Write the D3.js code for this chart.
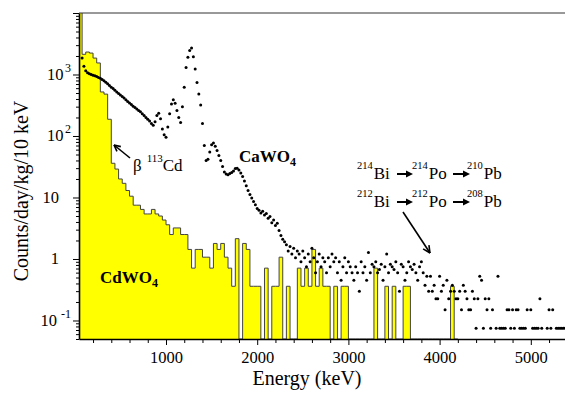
<!DOCTYPE html>
<html>
<head>
<meta charset="utf-8">
<script src="https://cdn.jsdelivr.net/npm/d3@7"></script>
<style>
  body { margin: 0; background: #fff; }
  svg { display: block; font-family: "Liberation Serif", "Times New Roman", serif; }
</style>
</head>
<body>
<div id="chart"></div>
<script>
// CdWO4 spectrum: 40 keV bins, first bin starts at 40 keV
const cdBinStart = 40;
const cdBinWidth = 40;
const cdValues = [
    12000, 2130, 2320, 2230, 1850, 1540, 520, 480, 187, 36,
    29, 20, 17, 13, 10.5, 7.5, 7.5, 6.4, 5.4, 5.4,
    6.4, 5.4, 5.0, 4.3, 3.6, 2.5, 3.2, 3.2, 2.5, 2.5,
    1.43, 0.71, 1.43, 1.43, 1.07, 1.07, 0.71, 1.79, 1.43, 1.79,
    1.07, 0.71, 0.36, 2.14, 0, 1.79, 1.43, 0.36, 0.36, 0.36,
    0, 0.71, 0, 0.36, 0.36, 1.07, 0, 0.36, 0, 0,
    0.71, 0.36, 0.71, 0.36, 1.43, 0.36, 0.71, 0.36, 0.36, 0,
    0.36, 0, 0.36, 0.36, 0, 0, 0, 0, 0, 0,
    0, 0.71, 0, 0, 0.36, 0, 0.36, 0, 0, 0.36,
    0.36, 0, 0, 0, 0, 0, 0, 0, 0, 0,
    0, 0, 0.36, 0
];

// CaWO4 spectrum: one point every 20 keV from 80 keV (null = empty bin)
const caStart = 80;
const caStep = 20;
const caValues = [
    1850, 1360, 1150, 1070, 1030, 1000, 975, 950, 925, 895,
    870, 830, 790, 750, 710, 660, 620, 590, 555, 520,
    490, 465, 440, 415, 390, 365, 345, 325, 305, 290,
    275, 260, 248, 230, 215, 200, 188, 176, 160, 150,
    170, 215, 235, 190, 130, 105, 95, 140, 230, 330,
    390, 340, 260, 200, 165, 300, 620, 1300, 1900, 2450,
    2700, 1950, 1230, 740, 480, 320, 160, 70, 40, 42,
    55, 72, 77, 68, 58, 48, 40, 32, 26, 24,
    23.5, 24.5, 25.5, 27, 29.5, 30, 28, 25, 22, 18.5,
    15.5, 13, 11.2, 9.8, 8.6, 7.6, 6.6, 6.2, 5.6, 6.0,
    5.2, 5.5, 4.6, 4.9, 3.9, 4.3, 3.5, 3.8, 2.9, 2.4,
    2.1, 1.9, 1.7, 1.35, 1.6, 1.2, 1.5, 1.05, 1.35, 1.2,
    0.9, 1.35, 1.05, 0.75, 1.2, 0.9, 1.5, 1.05, 0.6, 0.9,
    1.2, 0.75, 1.05, 0.9, 0.6, 1.05, 0.75, 1.2, 0.9, 1.05,
    0.6, 0.9, 0.45, 0.75, 1.05, 0.6, 0.9, 0.75, 0.6, 0.45,
    0.75, 0.6, 0.3, 0.9, 0.6, 0.75, 0.45, 1.28, 0.6, 0.825,
    0.75, 0.9, 0.6, 0.675, 0.825, 0.45, 0.75, 1.2, 0.6, 0.825,
    0.75, 0.675, 0.9, 0.6, 0.3, 0.825, 0.75, 0.45, 0.6, 0.9,
    0.75, 0.675, 0.825, 0.6, 0.45, 0.75, 0.9, 0.6, 0.375, 0.525,
    0.3, 0.525, 0.3, 0.375, 0.225, 0.225, 0.525, 0.3, 0.375, 0.15,
    0.45, 0.225, 0.3, 0.375, 0.3, 0.225, 0.225, 0.3, 0.15, 0.375,
    0.3, 0.225, 0.15, 0.15, 0.3, 0.225, 0.075, 0.225, 0.525, 0.45,
    0.075, 0.225, 0.15, 0.225, 0.075, 0.15, null, 0.075, 0.525, 0.075,
    0.075, 0.075, 0.075, 0.15, 0.15, 0.075, 0.15, 0.075, 0.15, 0.15,
    0.075, 0.075, 0.075, 0.075, 0.15, null, 0.15, 0.075, 0.075, 0.075,
    0.075, 0.225, 0.075, null, null, 0.075, 0.15, 0.075, 0.15, null,
    0.075, 0.075, 0.075, 0.075, 0.075, 0.075
];

const xTickLabels = [1000, 2000, 3000, 4000, 5000];
const yTickLabels = [
    {value: 0.1, base: '10', exp: '-1'},
    {value: 1, base: '1', exp: ''},
    {value: 10, base: '10', exp: ''},
    {value: 100, base: '10', exp: '2'},
    {value: 1000, base: '10', exp: '3'}
];

const width = 565;
const height = 395;
const margin = {top: 13, right: 0, bottom: 56, left: 79};
const plotBottom = height - margin.bottom;

const svg = d3.select('#chart')
    .append('svg')
    .attr('width', width)
    .attr('height', height);

const x = d3.scaleLinear()
    .domain([46, 5375])
    .range([margin.left, width - margin.right]);

const y = d3.scaleLog()
    .domain([0.05, 1e4])
    .range([plotBottom, margin.top]);

svg.append('clipPath')
    .attr('id', 'plot-clip')
    .append('rect')
    .attr('x', margin.left)
    .attr('y', margin.top)
    .attr('width', width - margin.left - margin.right)
    .attr('height', plotBottom - margin.top);

const plot = svg.append('g').attr('clip-path', 'url(#plot-clip)');

// histogram as one stepped outline, empty bins drop to the bottom
const cdPoints = cdValues.map((v, i) => ({e: cdBinStart + i * cdBinWidth, v}));
cdPoints.push({e: cdBinStart + cdValues.length * cdBinWidth, v: cdValues[cdValues.length - 1]});
const yTop = d => d.v > 0 ? y(d.v) : plotBottom;

plot.append('path')
    .datum(cdPoints)
    .attr('d', d3.area()
        .x(d => x(d.e))
        .y0(plotBottom)
        .y1(yTop)
        .curve(d3.curveStepAfter))
    .attr('fill', '#ffff00');

plot.append('path')
    .datum(cdPoints)
    .attr('d', d3.line()
        .x(d => x(d.e))
        .y(yTop)
        .curve(d3.curveStepAfter))
    .attr('fill', 'none')
    .attr('stroke', '#444')
    .attr('stroke-width', 1);

const caPoints = caValues
    .map((v, i) => ({e: caStart + i * caStep, v}))
    .filter(d => d.v !== null);

plot.selectAll('circle.ca')
    .data(caPoints)
    .join('circle')
    .attr('class', 'ca')
    .attr('cx', d => x(d.e))
    .attr('cy', d => y(d.v))
    .attr('r', 1.5)
    .attr('fill', '#000');

// frame top line
svg.append('line')
    .attr('x1', margin.left).attr('x2', width)
    .attr('y1', margin.top).attr('y2', margin.top)
    .attr('stroke', '#333').attr('stroke-width', 1);

// x axis: minor ticks every 200 keV, labels every 1000 keV
const xMinor = d3.range(200, 5400, 200).filter(v => v % 1000 !== 0);
svg.append('g')
    .attr('transform', `translate(0,${plotBottom})`)
    .call(d3.axisBottom(x).tickValues(xMinor).tickSize(4).tickSizeOuter(0).tickFormat(''))
    .call(g => g.select('.domain').remove());
svg.append('g')
    .attr('transform', `translate(0,${plotBottom})`)
    .call(d3.axisBottom(x).tickValues(xTickLabels).tickSize(6).tickSizeOuter(0)
        .tickPadding(6).tickFormat(d3.format('d')))
    .attr('font-family', null)
    .call(g => g.select('.domain').attr('stroke-width', 1.6))
    .call(g => g.selectAll('text').attr('font-size', '16.5px').attr('fill', '#000'));

// y axis: log minor ticks, custom power-of-ten labels
const yAll = y.ticks();
const yMajor = yAll.filter(v => Math.abs(Math.log10(v) - Math.round(Math.log10(v))) < 1e-6);
const yMinor = yAll.filter(v => !yMajor.includes(v));
svg.append('g')
    .attr('transform', `translate(${margin.left},0)`)
    .call(d3.axisLeft(y).tickValues(yMinor).tickSize(3).tickSizeOuter(0).tickFormat(''))
    .call(g => g.select('.domain').remove());
svg.append('g')
    .attr('transform', `translate(${margin.left},0)`)
    .call(d3.axisLeft(y).tickValues(yMajor).tickSize(6).tickSizeOuter(0).tickFormat(''))
    .call(g => g.select('.domain').attr('stroke-width', 1.6));

const yLabels = svg.append('g').attr('font-size', '16.5px');
yTickLabels.forEach(t => {
    const txt = yLabels.append('text')
        .attr('x', t.exp ? 71 : 59)
        .attr('y', y(t.value) + 5.5)
        .attr('text-anchor', 'end');
    txt.append('tspan').text(t.base);
    if (t.exp) {
        txt.append('tspan')
            .attr('dx', t.exp === '-1' ? 4 : 1.5)
            .attr('dy', -8)
            .attr('font-size', '12px')
            .text(t.exp);
    }
});

// axis titles
svg.append('text')
    .attr('x', 307)
    .attr('y', 385)
    .attr('text-anchor', 'middle')
    .attr('font-size', '20px')
    .text('Energy (keV)');

svg.append('text')
    .attr('transform', 'rotate(-90)')
    .attr('x', -191)
    .attr('y', 28)
    .attr('text-anchor', 'middle')
    .attr('font-size', '20px')
    .text('Counts/day/kg/10 keV');

// annotations
function openArrow(x1, y1, x2, y2, size) {
    const a = Math.atan2(y2 - y1, x2 - x1);
    const g = svg.append('g').attr('stroke', '#000').attr('stroke-width', 1.6).attr('fill', 'none');
    g.append('line').attr('x1', x1).attr('y1', y1).attr('x2', x2).attr('y2', y2);
    [-0.45, 0.45].forEach(d => {
        g.append('line')
            .attr('x1', x2).attr('y1', y2)
            .attr('x2', x2 - size * Math.cos(a + d))
            .attr('y2', y2 - size * Math.sin(a + d));
    });
}

function solidArrow(x1, x2, yy) {
    svg.append('line')
        .attr('x1', x1).attr('x2', x2 - 5)
        .attr('y1', yy).attr('y2', yy)
        .attr('stroke', '#000').attr('stroke-width', 2);
    svg.append('path')
        .attr('d', `M${x2},${yy} L${x2 - 7},${yy - 3.5} L${x2 - 7},${yy + 3.5} Z`)
        .attr('fill', '#000');
}

function isotope(xx, yy, mass, name) {
    const t = svg.append('text').attr('x', xx).attr('y', yy).attr('font-size', '17px');
    t.append('tspan').attr('font-size', '10.5px').attr('dy', -10).text(mass);
    t.append('tspan').attr('dy', 10).attr('dx', 1).text(name);
}

openArrow(130, 158, 114, 145, 7);
const beta = svg.append('text').attr('x', 133).attr('y', 171).attr('font-size', '17px');
beta.append('tspan').text('β');
beta.append('tspan').attr('dx', 5).attr('dy', -9).attr('font-size', '11px').text('113');
beta.append('tspan').attr('dy', 9).text('Cd');

const ca = svg.append('text').attr('x', 239).attr('y', 162).attr('font-size', '17px').attr('font-weight', 'bold');
ca.append('tspan').text('CaWO');
ca.append('tspan').attr('dy', 4).attr('font-size', '12px').text('4');

const cd = svg.append('text').attr('x', 100).attr('y', 283).attr('font-size', '17px').attr('font-weight', 'bold');
cd.append('tspan').text('CdWO');
cd.append('tspan').attr('dy', 4).attr('font-size', '12px').text('4');

isotope(357, 179, '214', 'Bi');
solidArrow(397, 413, 174);
isotope(412, 179, '214', 'Po');
solidArrow(453, 470, 174);
isotope(467, 179, '210', 'Pb');

isotope(357, 207, '212', 'Bi');
solidArrow(397, 413, 202);
isotope(412, 207, '212', 'Po');
solidArrow(453, 470, 202);
isotope(467, 207, '208', 'Pb');

openArrow(403, 212, 430, 253, 8);
</script>
</body>
</html>
